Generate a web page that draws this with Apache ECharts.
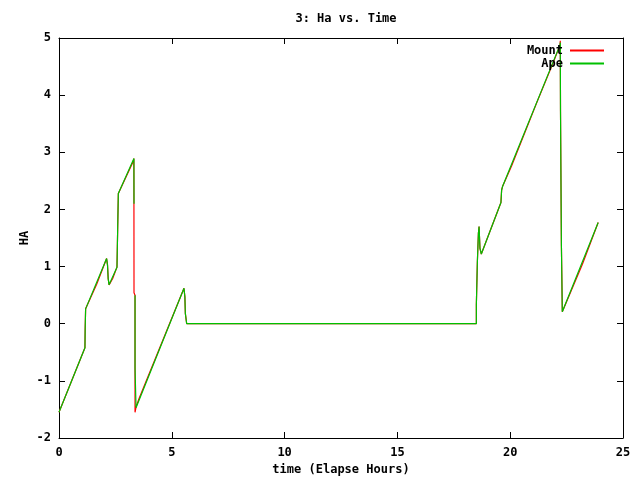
<!DOCTYPE html>
<html>
<head>
<meta charset="utf-8">
<script src="https://cdn.jsdelivr.net/npm/echarts@6/dist/echarts.min.js"></script>
<style>
html,body{margin:0;padding:0;background:#fff;}
#chart{width:640px;height:480px;}
</style>
</head>
<body>
<div id="chart"></div>
<script>
// ---- data ----
var titleText = '3: Ha vs. Time';
var xAxisName = 'time (Elapse Hours)';
var yAxisName = 'HA';
var seriesNames = ['Mount', 'Ape'];

var timeMount = [0.00, 1.15, 1.16, 1.18, 1.67, 2.11, 2.15, 2.18, 2.22, 2.38, 2.57, 2.60, 2.63, 3.27, 3.32, 3.325, 3.37, 3.37, 3.42, 3.55, 5.54, 5.58, 5.60, 5.66, 18.50, 18.50, 18.545, 18.545, 18.59, 18.59, 18.62, 18.66, 18.72, 19.59, 19.62, 19.66, 20.06, 21.17, 21.94, 22.21, 22.22, 22.23, 22.27, 22.27, 22.31, 22.31, 22.33, 23.20, 23.90];
var haMount   = [-1.55, -0.42, -0.09, 0.26, 0.69, 1.14, 1.03, 0.79, 0.68, 0.79, 0.99, 1.64, 2.28, 2.82, 2.89, 0.54, 0.50, -1.55, -1.45, -1.31, 0.62, 0.47, 0.18, 0.00, 0.00, 0.34, 0.34, 1.09, 1.09, 1.58, 1.70, 1.32, 1.22, 2.12, 2.34, 2.40, 2.76, 3.86, 4.60, 4.88, 4.95, 3.72, 3.72, 1.37, 1.37, 0.21, 0.18, 1.04, 1.77];

var timeApe = [0.00, 1.15, 1.16, 1.18, 2.11, 2.15, 2.18, 2.22, 2.57, 2.60, 2.63, 3.32, 3.325, 3.35, 3.37, 3.37, 3.415, 3.415, 5.54, 5.58, 5.60, 5.66, 18.50, 18.50, 18.545, 18.545, 18.59, 18.59, 18.62, 18.66, 18.72, 19.59, 19.62, 19.66, 22.21, 22.22, 22.23, 22.27, 22.27, 22.31, 22.31, 22.33, 23.90];
var haApe   = [-1.55, -0.42, -0.09, 0.26, 1.14, 1.03, 0.79, 0.68, 0.99, 1.64, 2.28, 2.89, 2.10, null, 0.50, -0.78, -0.78, -1.47, 0.62, 0.47, 0.18, 0.00, 0.00, 0.34, 0.34, 1.09, 1.09, 1.58, 1.70, 1.32, 1.22, 2.12, 2.34, 2.40, 4.88, 4.92, 3.72, 3.72, 1.37, 1.37, 0.21, 0.18, 1.77];

var xMin = 0, xMax = 25, xStep = 5;
var yMin = -2, yMax = 5, yStep = 1;

function pairs(xs, ys) {
  return xs.map(function (x, i) { return [x, ys[i] === null ? '-' : ys[i]]; });
}

var font = 'DejaVu Sans Mono';
var lbl = { color: '#000', fontFamily: font, fontWeight: 'bold', fontSize: 12 };

var chart = echarts.init(document.getElementById('chart'), null, { renderer: 'canvas' });

function axisBase(extra) {
  var a = {
    type: 'value',
    axisLine: { show: true, onZero: false, lineStyle: { color: '#000', width: 1 } },
    axisTick: { show: true, inside: true, length: 6, lineStyle: { color: '#000', width: 1 } },
    splitLine: { show: false },
    axisLabel: Object.assign({ show: true }, lbl)
  };
  return Object.assign(a, extra);
}

chart.setOption({
  animation: false,
  backgroundColor: '#fff',
  title: {
    text: titleText,
    left: 341, textAlign: 'center',
    top: 8,
    textStyle: { color: '#000', fontFamily: font, fontWeight: 'bold', fontSize: 12 }
  },
  legend: {
    data: seriesNames,
    orient: 'vertical',
    right: 31, top: 39,
    align: 'right',
    icon: 'rect',
    itemWidth: 34, itemHeight: 2,
    itemGap: 0,
    itemStyle: { borderWidth: 0 },
    textStyle: { color: '#000', fontFamily: font, fontWeight: 'bold', fontSize: 12, padding: [0, 2, 0, 0], lineHeight: 13 }
  },
  grid: { left: 59, right: 17, top: 38, bottom: 42, containLabel: false, outerBoundsMode: 'none' },
  xAxis: [
    axisBase({ min: xMin, max: xMax, interval: xStep, position: 'bottom',
      name: xAxisName, nameLocation: 'middle', nameGap: 26, nameMoveOverlap: false,
      nameTextStyle: Object.assign({}, lbl),
      axisLabel: Object.assign({ margin: 9 }, lbl) }),
    axisBase({ min: xMin, max: xMax, interval: xStep, position: 'top',
      axisLabel: { show: false } })
  ],
  yAxis: [
    axisBase({ min: yMin, max: yMax, interval: yStep, position: 'left',
      name: yAxisName, nameLocation: 'middle', nameGap: 28, nameRotate: 90, nameMoveOverlap: false,
      nameTextStyle: Object.assign({}, lbl),
      axisLabel: Object.assign({ margin: 8 }, lbl) }),
    axisBase({ min: yMin, max: yMax, interval: yStep, position: 'right',
      axisLabel: { show: false } })
  ],
  series: [
    {
      name: seriesNames[0], type: 'line', xAxisIndex: 0, yAxisIndex: 0,
      data: pairs(timeMount, haMount),
      showSymbol: false, symbol: 'none', connectNulls: false,
      lineStyle: { color: '#ff0000', width: 1.2 }, itemStyle: { color: '#ff0000' }, z: 2
    },
    {
      name: seriesNames[1], type: 'line', xAxisIndex: 0, yAxisIndex: 0,
      data: pairs(timeApe, haApe),
      showSymbol: false, symbol: 'none', connectNulls: false,
      lineStyle: { color: '#00c000', width: 1.2 }, itemStyle: { color: '#00c000' }, z: 3
    }
  ]
});
</script>
</body>
</html>
